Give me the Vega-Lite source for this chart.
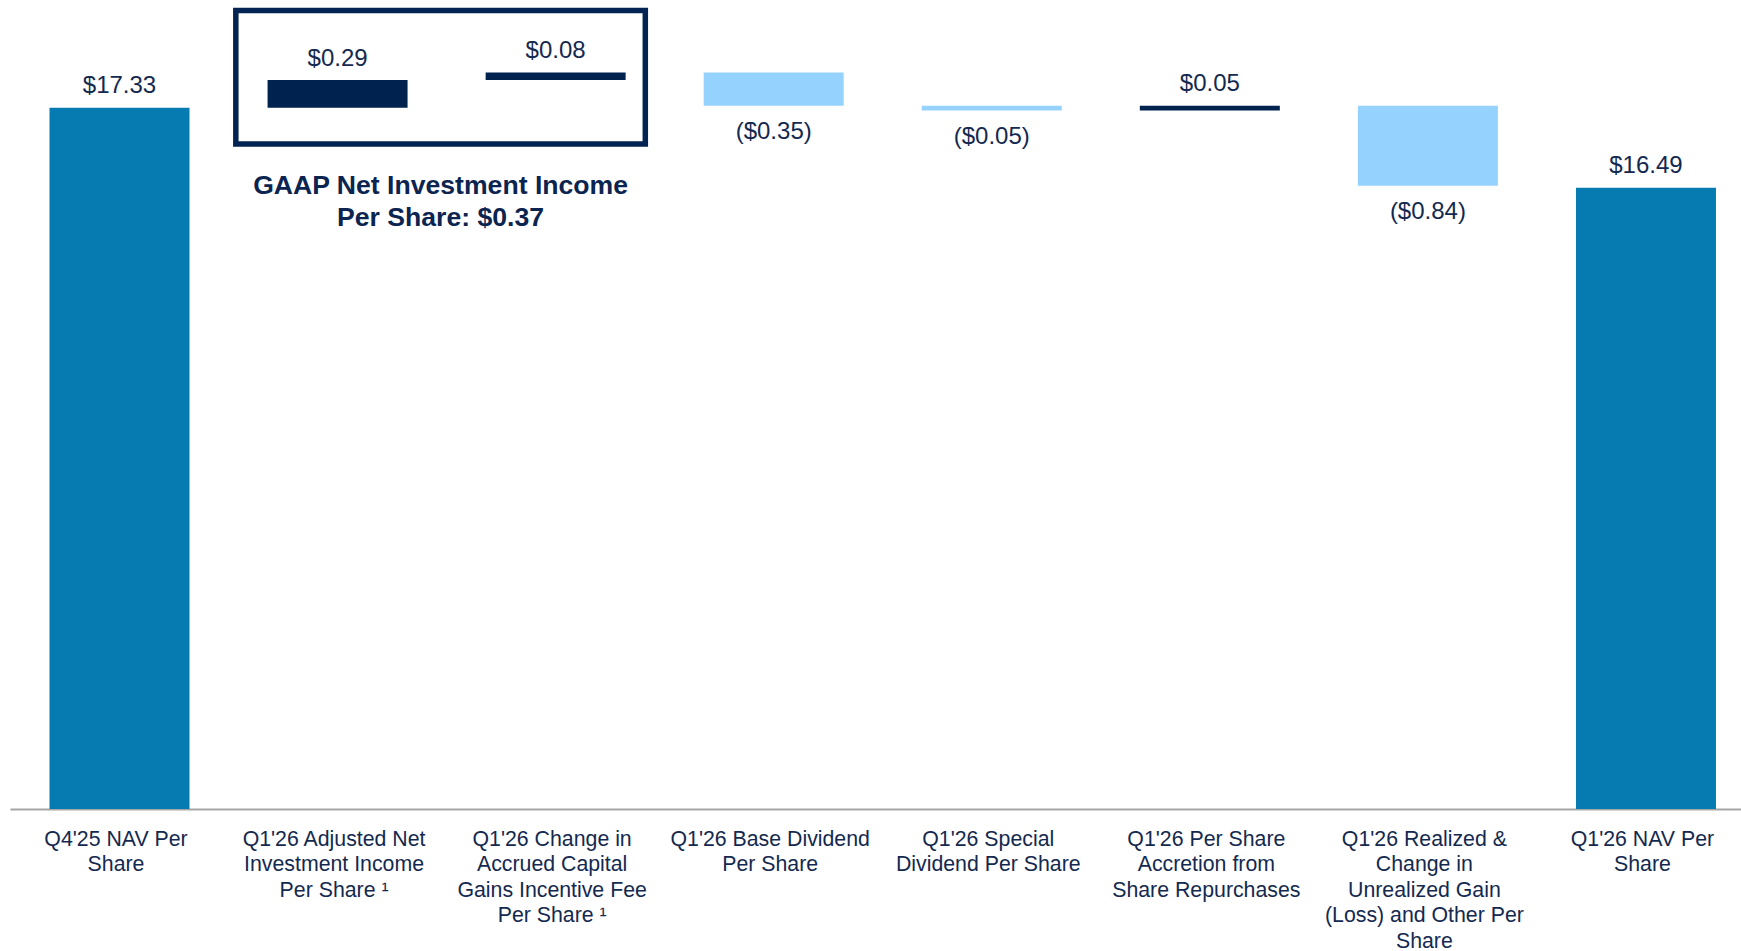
{
  "$schema": "https://vega.github.io/schema/vega-lite/v6.json",
  "width": 1731,
  "height": 809,
  "autosize": {"type": "none"},
  "padding": {"left": 10, "top": 0, "right": 0, "bottom": 142},
  "background": "white",
  "config": {"view": {"stroke": null}, "font": "Liberation Sans"},
  "datasets": {
    "steps": [
      {"cat": "Q4'25 NAV Per\nShare", "start": 0, "end": 17.33, "kind": "total", "label": "$17.33"},
      {"cat": "Q1'26 Adjusted Net\nInvestment Income\nPer Share ¹", "start": 17.33, "end": 17.62, "kind": "increase", "label": "$0.29"},
      {"cat": "Q1'26 Change in\nAccrued Capital\nGains Incentive Fee\nPer Share ¹", "start": 17.62, "end": 17.70, "kind": "increase", "label": "$0.08"},
      {"cat": "Q1'26 Base Dividend\nPer Share", "start": 17.70, "end": 17.35, "kind": "decrease", "label": "($0.35)"},
      {"cat": "Q1'26 Special\nDividend Per Share", "start": 17.35, "end": 17.30, "kind": "decrease", "label": "($0.05)"},
      {"cat": "Q1'26 Per Share\nAccretion from\nShare Repurchases", "start": 17.30, "end": 17.35, "kind": "increase", "label": "$0.05"},
      {"cat": "Q1'26 Realized &\nChange in\nUnrealized Gain\n(Loss) and Other Per\nShare", "start": 17.35, "end": 16.51, "kind": "decrease", "label": "($0.84)"},
      {"cat": "Q1'26 NAV Per\nShare", "start": 0, "end": 16.49, "kind": "total", "label": "$16.49"}
    ],
    "box": [
      {"cat": "Q1'26 Adjusted Net\nInvestment Income\nPer Share ¹", "top": 18.35, "bottom": 16.95}
    ],
    "note": [
      {"cat": "Q1'26 Adjusted Net\nInvestment Income\nPer Share ¹", "y": 16.51, "text": "GAAP Net Investment Income\nPer Share: $0.37"}
    ]
  },
  "layer": [
    {
      "data": {"name": "steps"},
      "mark": {"type": "bar"},
      "encoding": {
        "x": {
          "field": "cat",
          "type": "nominal",
          "sort": null,
          "scale": {
            "paddingInner": 0.358,
            "paddingOuter": 0.148,
            "align": 0.612
          },
          "axis": {
            "title": null,
            "labelAngle": 0,
            "ticks": false,
            "domainColor": "#A6A6A6",
            "domainWidth": 2,
            "labelFont": "Liberation Sans",
            "labelFontSize": 21.3,
            "labelColor": "#14294F",
            "labelLineHeight": 25.5,
            "labelPadding": 19,
            "labelOffset": -3.5,
            "labelBaseline": "top",
            "labelLimit": 400,
            "labelExpr": "split(datum.value, '\\n')"
          }
        },
        "y": {
          "field": "start",
          "type": "quantitative",
          "scale": {"domain": [9.97, 18.46], "nice": false, "zero": false, "clamp": true},
          "axis": null
        },
        "y2": {"field": "end"},
        "color": {
          "field": "kind",
          "type": "nominal",
          "scale": {"domain": ["total", "increase", "decrease"], "range": ["#057BB2", "#00224F", "#96D2FE"]},
          "legend": null
        }
      }
    },
    {
      "data": {"name": "box"},
      "mark": {"type": "bar", "filled": false, "fill": null, "stroke": "#032452", "strokeWidth": 5.5, "width": {"band": 2.925}, "xOffset": 103},
      "encoding": {
        "x": {"field": "cat", "type": "nominal", "sort": null},
        "y": {"field": "top", "type": "quantitative"},
        "y2": {"field": "bottom"}
      }
    },
    {
      "data": {"name": "steps"},
      "transform": [{"filter": "datum.end >= datum.start"}],
      "mark": {"type": "text", "baseline": "middle", "align": "center", "dy": -21.5, "fontSize": 24, "font": "Liberation Sans", "color": "#14294F"},
      "encoding": {
        "x": {"field": "cat", "type": "nominal", "sort": null},
        "y": {"field": "end", "type": "quantitative"},
        "text": {"field": "label", "type": "nominal"}
      }
    },
    {
      "data": {"name": "steps"},
      "transform": [{"filter": "datum.end < datum.start"}],
      "mark": {"type": "text", "baseline": "middle", "align": "center", "dy": 26.5, "fontSize": 24, "font": "Liberation Sans", "color": "#14294F"},
      "encoding": {
        "x": {"field": "cat", "type": "nominal", "sort": null},
        "y": {"field": "end", "type": "quantitative"},
        "text": {"field": "label", "type": "nominal"}
      }
    },
    {
      "data": {"name": "note"},
      "mark": {"type": "text", "baseline": "middle", "align": "center", "dx": 103, "lineBreak": "\n", "lineHeight": 32, "fontSize": 26.6, "fontWeight": "bold", "font": "Liberation Sans", "color": "#0B2550"},
      "encoding": {
        "x": {"field": "cat", "type": "nominal", "sort": null},
        "y": {"field": "y", "type": "quantitative"},
        "text": {"field": "text", "type": "nominal"}
      }
    }
  ]
}
